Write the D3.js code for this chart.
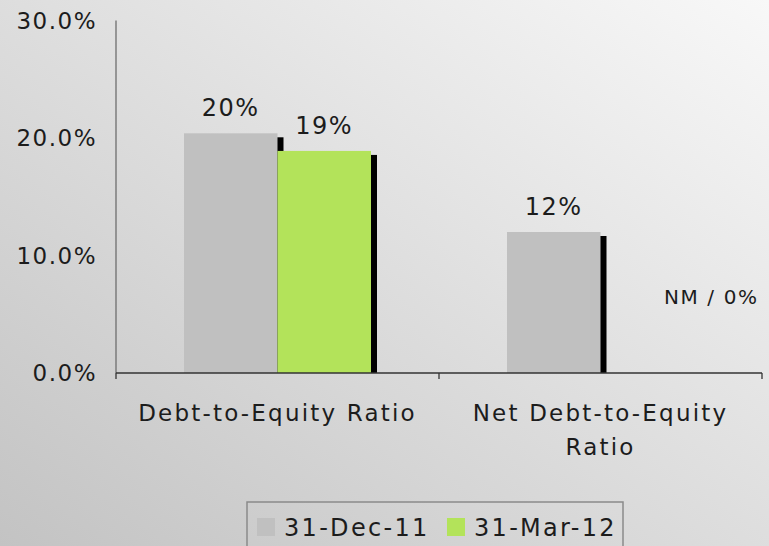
<!DOCTYPE html>
<html>
<head>
<meta charset="utf-8">
<style>
html, body {
  margin: 0px;
  padding: 0px;
  border: 0px;
}
svg text {
  font-family: "DejaVu Sans", Verdana, sans-serif;
  fill: #1c1c1c;
}
</style>
</head>
<body>
<div id="chart"></div>
<script src="https://cdn.jsdelivr.net/npm/d3@7"></script>
<script>
  // values (percent)
  var categories = ["Debt-to-Equity Ratio", "Net Debt-to-Equity Ratio"];
  var series = ["31-Dec-11", "31-Mar-12"];
  var dec11 = [20.4, 12.0];
  var mar12 = [18.9, null];   // null = not meaningful, shown as "NM / 0%"
  var yTicks = [0, 10, 20, 30];
  var colors = ["#c0c0c0", "#b3e35a"];

  var width = 769, height = 546;

  var svg = d3.select("#chart").append("svg")
    .attr("width", width)
    .attr("height", height);

  // diagonal gray background
  var grad = svg.append("defs").append("linearGradient")
    .attr("id", "bg")
    .attr("x1", "0%").attr("y1", "100%")
    .attr("x2", "100%").attr("y2", "0%");
  grad.append("stop").attr("offset", "0%").attr("stop-color", "#c3c3c3");
  grad.append("stop").attr("offset", "100%").attr("stop-color", "#f8f8f8");
  svg.append("rect")
    .attr("width", width).attr("height", height)
    .attr("fill", "url(#bg)");

  var x0 = d3.scaleBand().domain(categories).range([116, 762]);
  var x1 = d3.scaleBand().domain(series).range([68, 255]);
  var y = d3.scaleLinear().domain([0, 30]).range([373, 20.5]);

  var rows = categories.map(function (c, i) {
    return [
      { cat: c, s: series[0], v: dec11[i], color: colors[0] },
      { cat: c, s: series[1], v: mar12[i], color: colors[1] }
    ];
  });
  var bars = d3.merge(rows);

  // y axis: line + labels only
  svg.append("line")
    .attr("x1", 116).attr("x2", 116)
    .attr("y1", y(30)).attr("y2", y(0))
    .attr("stroke", "#6e6e6e").attr("stroke-width", 1.3);

  svg.selectAll(".ytick")
    .data(yTicks)
    .enter()
    .append("text")
    .attr("class", "ytick")
    .attr("x", 97)
    .attr("y", function (d) { return y(d); })
    .attr("dy", "0.36em")
    .attr("text-anchor", "end")
    .style("font-size", "23px")
    .style("letter-spacing", "1.5px")
    .text(function (d) { return d.toFixed(1) + "%"; });

  // shadows, then bars
  var drawn = bars.filter(function (d) { return d.v !== null; });

  svg.selectAll(".shadow")
    .data(drawn)
    .enter()
    .append("rect")
    .attr("class", "shadow")
    .attr("x", function (d) { return x0(d.cat) + x1(d.s) + 6; })
    .attr("y", function (d) { return y(d.v) + 4; })
    .attr("width", x1.bandwidth())
    .attr("height", function (d) { return y(0) - y(d.v) - 4; })
    .attr("fill", "#000");

  svg.selectAll(".bar")
    .data(drawn)
    .enter()
    .append("rect")
    .attr("class", "bar")
    .attr("x", function (d) { return x0(d.cat) + x1(d.s); })
    .attr("y", function (d) { return y(d.v); })
    .attr("width", x1.bandwidth())
    .attr("height", function (d) { return y(0) - y(d.v); })
    .attr("fill", function (d) { return d.color; });

  svg.selectAll(".vlabel")
    .data(drawn)
    .enter()
    .append("text")
    .attr("class", "vlabel")
    .attr("x", function (d) { return x0(d.cat) + x1(d.s) + x1.bandwidth() / 2; })
    .attr("y", function (d) { return y(d.v) - 17; })
    .attr("text-anchor", "middle")
    .style("font-size", "24px")
    .style("letter-spacing", "1.5px")
    .text(function (d) { return Math.round(d.v) + "%"; });

  // NM label for missing value
  svg.selectAll(".nm")
    .data(bars.filter(function (d) { return d.v === null; }))
    .enter()
    .append("text")
    .attr("class", "nm")
    .attr("x", function (d) { return x0(d.cat) + x1(d.s) + x1.bandwidth() - 30; })
    .attr("y", y(5.9))
    .attr("text-anchor", "start")
    .style("font-size", "20px")
    .style("letter-spacing", "1.6px")
    .text("NM / 0%");

  // x axis
  svg.append("line")
    .attr("x1", 116).attr("x2", 762)
    .attr("y1", y(0)).attr("y2", y(0))
    .attr("stroke", "#333").attr("stroke-width", 1.3);

  var tickXs = categories.map(function (c) { return x0(c); }).concat([x0.range()[1]]);
  svg.selectAll(".xtick")
    .data(tickXs)
    .enter()
    .append("line")
    .attr("class", "xtick")
    .attr("x1", function (d) { return d; })
    .attr("x2", function (d) { return d; })
    .attr("y1", y(0)).attr("y2", y(0) + 6)
    .attr("stroke", "#333").attr("stroke-width", 1.3);

  // category labels, wrapped like the original
  var catLines = [["Debt-to-Equity Ratio"], ["Net Debt-to-Equity", "Ratio"]];
  svg.selectAll(".cat")
    .data(categories)
    .enter()
    .append("text")
    .attr("class", "cat")
    .attr("text-anchor", "middle")
    .style("font-size", "23px")
    .style("letter-spacing", "2.2px")
    .each(function (c, i) {
      var t = d3.select(this);
      catLines[i].forEach(function (line, j) {
        t.append("tspan")
          .attr("x", x0(c) + x0.bandwidth() / 2)
          .attr("y", 421 + j * 34)
          .text(line);
      });
    });

  // legend
  var legend = svg.append("g").attr("transform", "translate(247,502)");
  legend.append("rect")
    .attr("width", 376).attr("height", 60)
    .attr("fill", "none")
    .attr("stroke", "#8a8a8a").attr("stroke-width", 1.5);

  var items = legend.selectAll(".item")
    .data(series)
    .enter()
    .append("g")
    .attr("class", "item")
    .attr("transform", function (d, i) { return "translate(" + (10 + i * 190) + ",16)"; });
  items.append("rect")
    .attr("width", 18).attr("height", 18)
    .attr("fill", function (d, i) { return colors[i]; });
  items.append("text")
    .attr("x", 27).attr("y", 18)
    .style("font-size", "24px")
    .style("letter-spacing", "2.3px")
    .text(function (d) { return d; });
</script>
</body>
</html>
